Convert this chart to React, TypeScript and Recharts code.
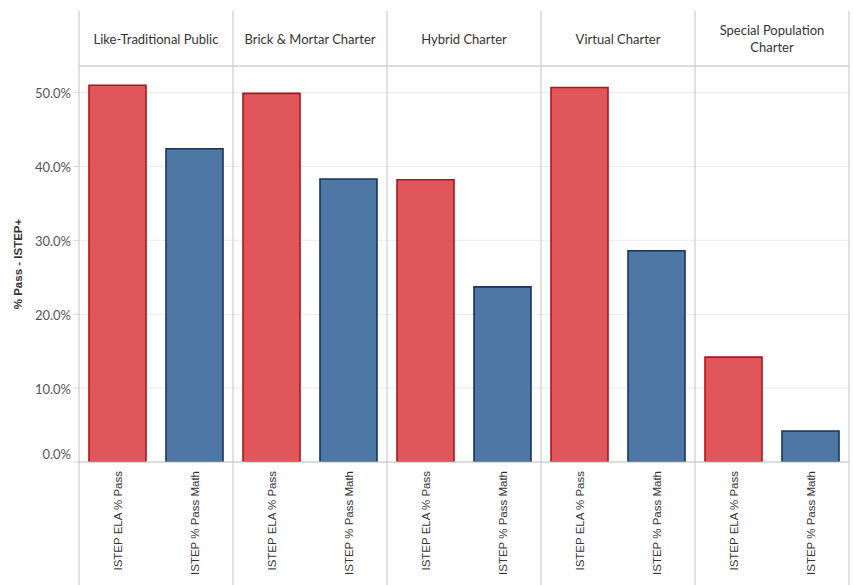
import { Bar, BarChart, CartesianGrid, Cell, XAxis, YAxis } from "recharts";

const groups = [
  "Like-Traditional Public",
  "Brick & Mortar Charter",
  "Hybrid Charter",
  "Virtual Charter",
  "Special Population Charter",
];
const measures = ["ISTEP ELA % Pass", "ISTEP % Pass Math"];
const elaPass = [0.51, 0.499, 0.382, 0.507, 0.142];
const mathPass = [0.424, 0.383, 0.237, 0.286, 0.042];
const yTicks = [0, 0.1, 0.2, 0.3, 0.4, 0.5];

const rows = groups.flatMap((group, i) => [
  { key: `${group}|ela`, group, measure: measures[0], value: elaPass[i] },
  { key: `${group}|math`, group, measure: measures[1], value: mathPass[i] },
]);

const W = 853;
const H = 585;
const HEADER_TOP = 11;
const PLOT_TOP = 66;
const X_AXIS_H = 123;
const PLOT_BOTTOM = H - X_AXIS_H;
const LINE = "#c4c4c4";
const RED = "#e0565b";
const RED_EDGE = "#a8171f";
const BLUE = "#4e77a5";
const BLUE_EDGE = "#17345b";

function wrapHeader(text: string) {
  if (text.length <= 24) return [text];
  const words = text.split(" ");
  return [words.slice(0, -1).join(" "), words[words.length - 1]];
}

function MeasureTick(props: any) {
  const { x, y, payload, index } = props;
  const half = payload?.offset || 38.5;
  const row = rows[index] ?? rows.find((r) => r.key === payload.value);
  const isFirst = row?.measure === measures[0];
  const isLast = index === rows.length - 1;
  const lines = row ? wrapHeader(row.group) : [];
  const headerMid = (HEADER_TOP + PLOT_TOP) / 2 + 5;

  return (
    <g>
      {isFirst && (
        <>
          <line x1={x - half} x2={x - half} y1={HEADER_TOP} y2={H} stroke={LINE} />
          <line
            x1={x - half}
            x2={x + 3 * half}
            y1={PLOT_TOP}
            y2={PLOT_TOP}
            stroke={LINE}
          />
          {lines.map((ln, i) => (
            <text
              key={ln}
              x={x + half}
              y={headerMid + (i - (lines.length - 1) / 2) * 17}
              textAnchor="middle"
              fontFamily="Lato, 'Open Sans', sans-serif"
              fontSize={13}
              fill="#333"
            >
              {ln}
            </text>
          ))}
        </>
      )}
      {isLast && (
        <line x1={x + half} x2={x + half} y1={HEADER_TOP} y2={H} stroke={LINE} />
      )}
      <text
        x={0}
        y={0}
        transform={`translate(${x + 4},${y + 1}) rotate(-90)`}
        textAnchor="end"
        fontFamily="'Liberation Sans', Arial, sans-serif"
        fontSize={11.5}
        fill="#333"
      >
        {row?.measure}
      </text>
    </g>
  );
}

function PercentTick(props: any) {
  const { x, y, payload } = props;
  const shift = payload.value === 0 ? -8 : 1;
  return (
    <text
      x={x}
      y={y + shift}
      dy="0.35em"
      textAnchor="end"
      fontFamily="Lato, 'Open Sans', sans-serif"
      fontSize={13}
      fill="#555"
    >
      {(payload.value * 100).toFixed(1)}%
    </text>
  );
}

export default function App() {
  return (
    <div style={{ width: W, height: H, background: "#fff" }}>
      <style>{"body{margin:0}"}</style>
      <BarChart
        width={W}
        height={H}
        data={rows}
        margin={{ top: PLOT_TOP, right: 4, bottom: 0, left: 0 }}
      >
        <CartesianGrid vertical={false} stroke="#ebebeb" />
        <XAxis
          dataKey="key"
          height={X_AXIS_H}
          interval={0}
          axisLine={{ stroke: LINE }}
          tickLine={false}
          tick={<MeasureTick />}
        />
        <YAxis
          width={79}
          domain={[0, 0.536]}
          ticks={yTicks}
          allowDataOverflow
          axisLine={false}
          tickSize={6}
          tickLine={{ stroke: "#dcdcdc" }}
          tick={<PercentTick />}
          label={{
            content: () => (
              <text
                x={0}
                y={0}
                transform={`translate(22,${(PLOT_TOP + PLOT_BOTTOM) / 2}) rotate(-90)`}
                textAnchor="middle"
                fontFamily="'Liberation Sans', Arial, sans-serif"
                fontSize={11.5}
                fontWeight="bold"
                fill="#333"
              >
                % Pass - ISTEP+
              </text>
            ),
          }}
        />
        <Bar dataKey="value" barSize={57} strokeWidth={1.6} isAnimationActive={false}>
          {rows.map((r) => {
            const ela = r.measure === measures[0];
            return (
              <Cell
                key={r.key}
                fill={ela ? RED : BLUE}
                stroke={ela ? RED_EDGE : BLUE_EDGE}
              />
            );
          })}
        </Bar>
      </BarChart>
    </div>
  );
}
